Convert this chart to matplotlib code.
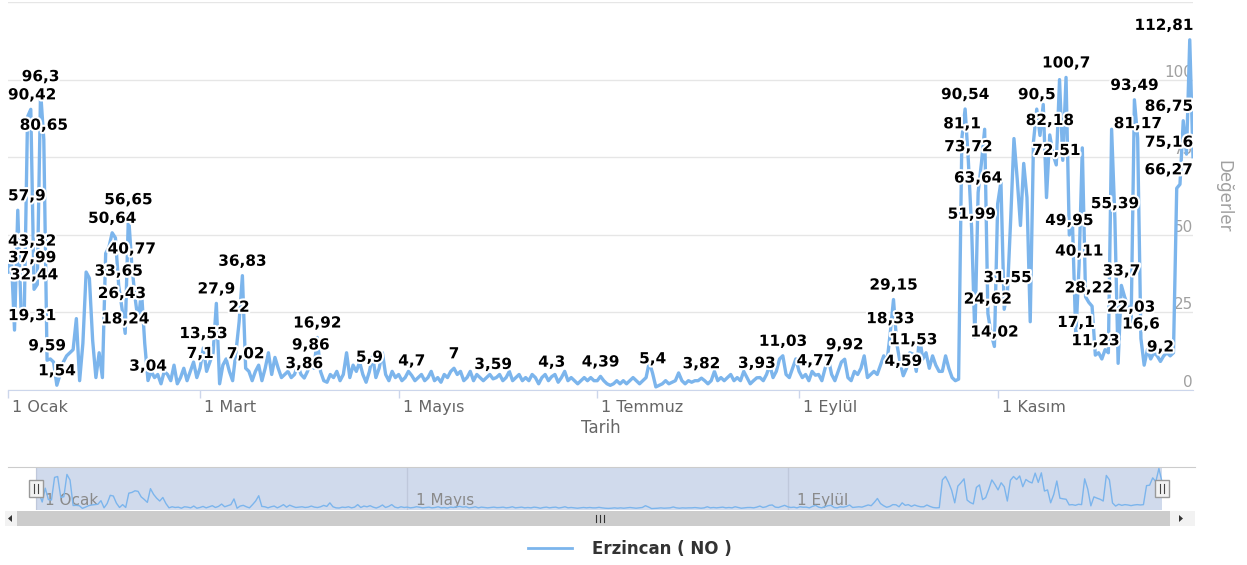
import matplotlib
matplotlib.use('Agg')
import matplotlib.pyplot as plt
import matplotlib.dates as mdates
import matplotlib.patheffects as pe
import matplotlib.transforms as mtransforms
from matplotlib.patches import Rectangle, Polygon
from matplotlib.lines import Line2D
import numpy as np
import pandas as pd

# daily NO values, one list per month (2019)
jan = [37.99, 43.32, 19.31, 57.9, 26, 25, 88, 90.42, 32.44, 34, 96.3, 80.65, 9.59, 10, 9, 1.54,
       5, 9, 11, 12, 13, 23, 3, 15, 38, 36, 16, 4, 12, 4, 44]
feb = [46, 50.64, 49, 33.65, 26.43, 18.24, 56.65, 40.77, 30, 22, 32, 15, 3.04, 6, 4, 5, 2, 6,
       5, 3, 8, 2, 4, 7, 3, 6, 9, 4]
mar = [7.1, 13.53, 6, 9, 12, 27.9, 2, 8, 10, 6, 3, 12, 22, 36.83, 7.02, 6, 3, 6, 8, 3, 7, 12,
       5, 10.5, 7, 4, 5, 6, 4, 5, 8]
apr = [5, 3.86, 6, 9.86, 7, 16.92, 6, 3, 2.5, 5, 4, 6, 3, 5, 12, 4, 8, 6, 9, 5, 2.5, 5.9, 11,
       4, 7, 12, 5, 3, 6, 4]
may = [5, 3, 4, 6, 4.7, 3, 4, 5, 3, 4, 6, 3, 4, 2.5, 5, 4, 6, 7, 5, 6, 3, 4, 6, 3, 5, 4, 3, 4,
       5, 3.59, 4]
jun = [5, 3, 4, 6, 3, 4, 5, 3, 4, 3, 5, 4, 2, 4, 5, 3, 4.3, 5, 2.5, 4, 6, 3, 4, 3, 2, 3, 4, 3,
       4, 3]
jul = [3, 4.39, 3, 2, 1.5, 2, 3, 2, 3, 2, 3, 4, 3, 2, 3, 4, 9, 5.4, 1, 1.5, 2, 3, 2, 2.5, 3,
       5.5, 3, 2, 3, 2.5, 3]
aug = [3, 3.82, 3, 2, 3, 6, 3, 4, 3, 4, 5, 3, 4, 3, 6, 4, 2, 3, 3.93, 4, 3, 5, 8, 4, 6, 10,
       11.03, 5, 4, 7, 10]
sep = [6, 4, 5, 3, 6, 4.77, 5, 3, 7, 10, 5, 3, 6, 9, 9.92, 4, 3, 6, 5, 7, 11, 4, 5, 6, 5, 8,
       11, 9, 18.33, 29.15]
oct_ = [15, 9, 4.59, 7, 12, 11.53, 6, 17, 10, 12, 7, 11, 8, 6, 6, 11, 7, 4, 3, 3.5, 81.1,
        90.54, 73.72, 51.99, 17, 63.64, 73, 84, 24.62, 18, 14.02]
nov = [60, 67, 26, 31.55, 55, 81, 68, 53, 73, 62, 22, 80, 90.5, 82, 92, 62, 82.18, 76, 72.51,
       100, 74, 100.7, 49.95, 53, 17.1, 40.11, 78, 30, 28.22, 27]
dec = [11.23, 12, 10, 13, 12, 84, 55.39, 8.6, 33.7, 30, 27, 22.03, 93.49, 81.17, 16.6, 8, 13,
       10, 12, 11, 9.2, 11, 12, 11, 12, 65, 66.27, 86.75, 76, 112.81, 75.16]

# days that carry a visible data label
label_dates = ['01-01', '01-02', '01-03', '01-04', '01-08', '01-09', '01-11', '01-12', '01-13',
               '01-16', '02-02', '02-04', '02-05', '02-06', '02-07', '02-08', '02-13', '03-01',
               '03-02', '03-06', '03-13', '03-14', '03-15', '04-02', '04-04', '04-06', '04-22',
               '05-05', '05-18', '05-30', '06-17', '07-02', '07-18', '08-02', '08-19', '08-27',
               '09-06', '09-15', '09-29', '09-30', '10-03', '10-06', '10-21', '10-22', '10-23',
               '10-24', '10-26', '10-29', '10-31', '11-04', '11-13', '11-17', '11-19', '11-22',
               '11-23', '11-25', '11-26', '11-29', '12-01', '12-07', '12-09', '12-12', '12-13',
               '12-14', '12-15', '12-21', '12-27', '12-28', '12-30', '12-31']

tick_dates = ['2019-01-01', '2019-03-01', '2019-05-01', '2019-07-01', '2019-09-01', '2019-11-01']
tick_labels = ['1 Ocak', '1 Mart', '1 Mayıs', '1 Temmuz', '1 Eylül', '1 Kasım']
nav_tick_dates = ['2019-01-01', '2019-05-01', '2019-09-01']
nav_tick_labels = ['1 Ocak', '1 Mayıs', '1 Eylül']
y_ticks = [0, 25, 50, 75, 100, 125]
y_tick_labels = ['0', '25', '50', '75', '100', '']
series_name = 'Erzincan ( NO )'
x_title = 'Tarih'
y_title = 'Değerler'

values = np.array(jan + feb + mar + apr + may + jun + jul + aug + sep + oct_ + nov + dec)
dates = pd.date_range('2019-01-01', periods=len(values), freq='D')

line_color = '#7cb5ec'
W, H = 1247, 565
fig = plt.figure(figsize=(W / 100, H / 100), dpi=100)


def box(x0, y0, x1, y1):
    # pixel box (top-left origin) -> figure fraction rect
    return [x0 / W, 1 - y1 / H, (x1 - x0) / W, (y1 - y0) / H]


# ---- main chart ----
ax = fig.add_axes(box(8, 2, 1193, 390))
ax.plot(dates, values, color=line_color, lw=2.4, solid_joinstyle='round', zorder=3)
ax.set_xlim(dates[0], dates[-1])
ax.set_ylim(0, 125)
for s in ['top', 'left', 'right']:
    ax.spines[s].set_visible(False)
ax.spines['bottom'].set_color('#ccd6eb')
ax.set_yticks(y_ticks)
ax.set_yticklabels(y_tick_labels)
ax.yaxis.tick_right()
ax.grid(axis='y', color='#e6e6e6', lw=1)
ax.set_axisbelow(True)
ax.tick_params(axis='y', length=0, pad=0, labelcolor='#a0a0a0', labelsize=11)
for lbl in ax.get_yticklabels():
    lbl.set_ha('right')
    lbl.set_va('bottom')

ax.set_xticks(pd.to_datetime(tick_dates))
ax.set_xticklabels(tick_labels)
ax.tick_params(axis='x', length=6, width=1, color='#ccd6eb', labelcolor='#666666',
               labelsize=11.5, pad=1)
shift = mtransforms.ScaledTranslation(4 / 100, 0, fig.dpi_scale_trans)
for lbl in ax.get_xticklabels():
    lbl.set_ha('left')
    lbl.set_transform(lbl.get_transform() + shift)
ax.set_xlabel(x_title, color='#666666', fontsize=12, labelpad=3)
ax.set_ylabel(y_title, color='#a0a0a0', fontsize=12, rotation=270)
ax.yaxis.set_label_position('right')
ax.yaxis.set_label_coords(1.033, 0.5)

anns = []
for d in label_dates:
    i = dates.get_loc(pd.Timestamp('2019-' + d))
    v = values[i]
    txt = f"{v:g}".replace('.', ',')
    a = ax.annotate(txt, (dates[i], v), xytext=(0, 5), textcoords='offset points',
                    ha='center', va='bottom', fontsize=11, fontweight='bold', color='#000000',
                    annotation_clip=False, zorder=5,
                    path_effects=[pe.withStroke(linewidth=3, foreground='white')])
    anns.append(a)

# ---- navigator ----
nav = fig.add_axes(box(8, 467, 1195, 510))
d0, d1 = mdates.date2num(dates[0]), mdates.date2num(dates[-1])
per_px = (d1 - d0) / (1162 - 36)
nav.set_xlim(d0 - (36 - 8) * per_px, d1 + (1195 - 1162) * per_px)
nav.set_ylim(-3, 117)
nav.axvspan(dates[0], dates[-1], color='#6685c2', alpha=0.3, lw=0, zorder=1)
nav.plot(dates, values, color=line_color, lw=1, zorder=3)
nav.set_xticks(pd.to_datetime(nav_tick_dates))
nav.set_xticklabels([])
nav.set_yticks([])
nav.tick_params(axis='x', length=0)
nav.grid(axis='x', color='#e6e6e6', lw=1)
nav.set_axisbelow(True)
for s in ['left', 'right', 'bottom']:
    nav.spines[s].set_visible(False)
nav.spines['top'].set_color('#cccccc')
trans = mtransforms.blended_transform_factory(nav.transData, nav.transAxes)
for d, t in zip(nav_tick_dates, nav_tick_labels):
    nav.text(pd.Timestamp(d), 0.22, t, transform=trans + mtransforms.ScaledTranslation(
        9 / 100, 0, fig.dpi_scale_trans), ha='left', va='center', fontsize=11,
        color='#8a8a8a', zorder=2)

# ---- handles, scrollbar (pixel overlay) ----
deco = fig.add_axes([0, 0, 1, 1], zorder=5)
deco.set_xlim(0, W)
deco.set_ylim(H, 0)
deco.axis('off')
deco.patch.set_alpha(0)
for hx in [36, 1162]:
    deco.add_patch(Rectangle((hx - 7, 480), 14, 17, fc='#f2f2f2', ec='#999999', lw=1))
    for dx in [-2, 2]:
        deco.plot([hx + dx, hx + dx], [484, 493], color='#444444', lw=0.8)
deco.add_patch(Rectangle((5, 511), 1190, 15, fc='#f2f2f2', ec='#f2f2f2', lw=0))
deco.add_patch(Rectangle((17, 511), 1153, 15, fc='#cccccc', ec='#cccccc', lw=0))
for rx in [596, 600, 604]:
    deco.plot([rx, rx], [515, 522], color='#333333', lw=0.8)
deco.add_patch(Polygon([[12, 515], [12, 522], [8, 518.5]], closed=True, fc='#333333', lw=0))
deco.add_patch(Polygon([[1179, 515], [1179, 522], [1183, 518.5]], closed=True, fc='#333333',
                       lw=0))

leg_line = Line2D([], [], color=line_color, lw=2)
fig.legend(handles=[leg_line], labels=[series_name], loc='center',
           bbox_to_anchor=(630 / W, 1 - 549 / H), frameon=False, handlelength=2.6,
           handletextpad=1.2, prop={'size': 12, 'weight': 'bold'}, labelcolor='#333333')

# justify data labels that would spill out of the plot area
fig.canvas.draw()
r = fig.canvas.get_renderer()
ab = ax.get_window_extent(r)
for a in anns:
    bb = a.get_window_extent(r)
    dx = 0
    if bb.x0 < ab.x0:
        dx = ab.x0 - bb.x0
    elif bb.x1 > ab.x1:
        dx = ab.x1 - bb.x1
    a.xyann = (dx * 72 / fig.dpi, 5)

fig.savefig('out.png', dpi=100)
